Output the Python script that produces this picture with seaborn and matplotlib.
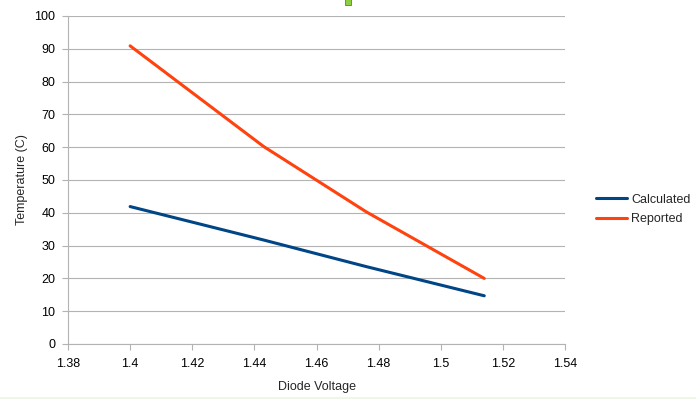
import pandas as pd
import matplotlib
matplotlib.use("Agg")
import matplotlib.pyplot as plt
import matplotlib.ticker as mticker
import seaborn as sns

# ── Dados ────────────────────────────────────────────────
voltage = [1.4, 1.443, 1.476, 1.514]
calculated = [41.9, 31.7, 23.6, 14.7]
reported = [90.9, 60.2, 40.3, 20.0]
series_names = ["Calculated", "Reported"]

df = pd.DataFrame({
    "voltage": voltage * 2,
    "temp": calculated + reported,
    "series": [series_names[0]] * len(voltage) + [series_names[1]] * len(voltage),
})

# ── Visual ───────────────────────────────────────────────
sns.set_theme(style="white")
plt.rcParams["font.family"] = ["Liberation Sans", "DejaVu Sans"]

fig = plt.figure(figsize=(6.96, 3.99), dpi=100)
ax = fig.add_axes([68 / 696, 1 - 344 / 399, 497 / 696, 328 / 399])

sns.lineplot(data=df, x="voltage", y="temp", hue="series", hue_order=series_names,
             palette=["#004586", "#ff420e"], linewidth=2.2, sort=False, ax=ax)

ax.set_xlim(1.38, 1.54)
ax.set_ylim(0, 100)
ax.xaxis.set_major_locator(mticker.MultipleLocator(0.02))
ax.yaxis.set_major_locator(mticker.MultipleLocator(10))
ax.xaxis.set_major_formatter(mticker.FuncFormatter(lambda v, p: f"{v:g}"))
ax.grid(axis="y", color="#b3b3b3", linewidth=0.8)
ax.set_axisbelow(True)
for s in ["top", "right"]:
    ax.spines[s].set_visible(False)
for s in ["left", "bottom"]:
    ax.spines[s].set_color("#b3b3b3")
    ax.spines[s].set_linewidth(0.8)
ax.tick_params(axis="both", length=4, width=0.8, color="#b3b3b3", labelsize=9,
               labelcolor="#000000", direction="out", left=True, bottom=True)
ax.tick_params(axis="x", pad=6)
ax.tick_params(axis="y", pad=5)

ax.set_xlabel("Diode Voltage", fontsize=9, labelpad=8)
ax.set_ylabel("Temperature (C)", fontsize=9, labelpad=5)

leg = ax.legend(loc="center left", bbox_to_anchor=(1.04, 0.41), frameon=False,
                fontsize=9, handlelength=2.5, handletextpad=0.3, labelspacing=0.6)

# marcador verde no topo e borda inferior
fig.patches.append(plt.Rectangle((345 / 696, 1 - 5 / 399), 6 / 696, 6 / 399,
                                 transform=fig.transFigure, facecolor="#8ccf3f",
                                 edgecolor="#4f8f1a", linewidth=0.6))
fig.patches.append(plt.Rectangle((0, 0), 1, 2 / 399, transform=fig.transFigure,
                                 facecolor="#eef6e6", edgecolor="none"))

fig.savefig("out.png", dpi=100)
